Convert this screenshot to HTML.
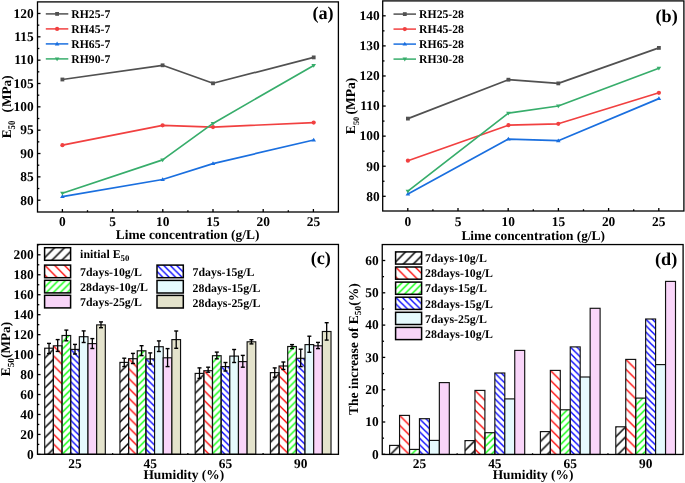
<!DOCTYPE html><html><head><meta charset="utf-8"><style>html,body{margin:0;padding:0;background:#fff;}svg{display:block;will-change:transform;text-rendering:geometricPrecision;}text{font-family:"Liberation Serif", serif;font-weight:bold;fill:#000;}</style></head><body>
<svg width="685" height="483" viewBox="0 0 685 483">
<rect width="685" height="483" fill="#fff"/>
<line x1="37.50" y1="200.20" x2="40.50" y2="200.20" stroke="#000" stroke-width="1.3" />
<text x="33.60" y="204.50" font-size="13.4" text-anchor="end" >80</text>
<line x1="37.50" y1="176.86" x2="40.50" y2="176.86" stroke="#000" stroke-width="1.3" />
<text x="33.60" y="181.16" font-size="13.4" text-anchor="end" >85</text>
<line x1="37.50" y1="153.52" x2="40.50" y2="153.52" stroke="#000" stroke-width="1.3" />
<text x="33.60" y="157.82" font-size="13.4" text-anchor="end" >90</text>
<line x1="37.50" y1="130.18" x2="40.50" y2="130.18" stroke="#000" stroke-width="1.3" />
<text x="33.60" y="134.48" font-size="13.4" text-anchor="end" >95</text>
<line x1="37.50" y1="106.84" x2="40.50" y2="106.84" stroke="#000" stroke-width="1.3" />
<text x="33.60" y="111.14" font-size="13.4" text-anchor="end" >100</text>
<line x1="37.50" y1="83.50" x2="40.50" y2="83.50" stroke="#000" stroke-width="1.3" />
<text x="33.60" y="87.80" font-size="13.4" text-anchor="end" >105</text>
<line x1="37.50" y1="60.16" x2="40.50" y2="60.16" stroke="#000" stroke-width="1.3" />
<text x="33.60" y="64.46" font-size="13.4" text-anchor="end" >110</text>
<line x1="37.50" y1="36.82" x2="40.50" y2="36.82" stroke="#000" stroke-width="1.3" />
<text x="33.60" y="41.12" font-size="13.4" text-anchor="end" >115</text>
<line x1="37.50" y1="13.48" x2="40.50" y2="13.48" stroke="#000" stroke-width="1.3" />
<text x="33.60" y="17.78" font-size="13.4" text-anchor="end" >120</text>
<line x1="37.50" y1="188.53" x2="39.30" y2="188.53" stroke="#000" stroke-width="1.3" />
<line x1="37.50" y1="165.19" x2="39.30" y2="165.19" stroke="#000" stroke-width="1.3" />
<line x1="37.50" y1="141.85" x2="39.30" y2="141.85" stroke="#000" stroke-width="1.3" />
<line x1="37.50" y1="118.51" x2="39.30" y2="118.51" stroke="#000" stroke-width="1.3" />
<line x1="37.50" y1="95.17" x2="39.30" y2="95.17" stroke="#000" stroke-width="1.3" />
<line x1="37.50" y1="71.83" x2="39.30" y2="71.83" stroke="#000" stroke-width="1.3" />
<line x1="37.50" y1="48.49" x2="39.30" y2="48.49" stroke="#000" stroke-width="1.3" />
<line x1="37.50" y1="25.15" x2="39.30" y2="25.15" stroke="#000" stroke-width="1.3" />
<line x1="62.40" y1="212.00" x2="62.40" y2="209.00" stroke="#000" stroke-width="1.3" />
<text x="62.40" y="226.40" font-size="13.4" text-anchor="middle" >0</text>
<line x1="112.60" y1="212.00" x2="112.60" y2="209.00" stroke="#000" stroke-width="1.3" />
<text x="112.60" y="226.40" font-size="13.4" text-anchor="middle" >5</text>
<line x1="162.80" y1="212.00" x2="162.80" y2="209.00" stroke="#000" stroke-width="1.3" />
<text x="162.80" y="226.40" font-size="13.4" text-anchor="middle" >10</text>
<line x1="213.00" y1="212.00" x2="213.00" y2="209.00" stroke="#000" stroke-width="1.3" />
<text x="213.00" y="226.40" font-size="13.4" text-anchor="middle" >15</text>
<line x1="263.20" y1="212.00" x2="263.20" y2="209.00" stroke="#000" stroke-width="1.3" />
<text x="263.20" y="226.40" font-size="13.4" text-anchor="middle" >20</text>
<line x1="313.40" y1="212.00" x2="313.40" y2="209.00" stroke="#000" stroke-width="1.3" />
<text x="313.40" y="226.40" font-size="13.4" text-anchor="middle" >25</text>
<line x1="87.50" y1="212.00" x2="87.50" y2="210.20" stroke="#000" stroke-width="1.3" />
<line x1="137.70" y1="212.00" x2="137.70" y2="210.20" stroke="#000" stroke-width="1.3" />
<line x1="187.90" y1="212.00" x2="187.90" y2="210.20" stroke="#000" stroke-width="1.3" />
<line x1="238.10" y1="212.00" x2="238.10" y2="210.20" stroke="#000" stroke-width="1.3" />
<line x1="288.30" y1="212.00" x2="288.30" y2="210.20" stroke="#000" stroke-width="1.3" />
<rect x="37.50" y="1.90" width="300.90" height="210.10" fill="none" stroke="#000" stroke-width="1.3"/>
<text x="187.60" y="239.40" font-size="13.4" text-anchor="middle" >Lime concentration (g/L)</text>
<text x="333.60" y="19.10" font-size="18.2" text-anchor="end" >(a)</text>
<path d="M62.40,79.50 L162.60,65.30 L213.00,83.30 L313.70,57.40" fill="none" stroke="#515151" stroke-width="1.7" stroke-linejoin="round"/>
<rect x="60.50" y="77.60" width="3.80" height="3.80" fill="#515151"/>
<rect x="160.70" y="63.40" width="3.80" height="3.80" fill="#515151"/>
<rect x="211.10" y="81.40" width="3.80" height="3.80" fill="#515151"/>
<rect x="311.80" y="55.50" width="3.80" height="3.80" fill="#515151"/>
<path d="M62.40,145.20 L162.60,125.30 L213.00,127.10 L313.70,122.60" fill="none" stroke="#F14040" stroke-width="1.7" stroke-linejoin="round"/>
<circle cx="62.40" cy="145.20" r="2.10" fill="#F14040"/>
<circle cx="162.60" cy="125.30" r="2.10" fill="#F14040"/>
<circle cx="213.00" cy="127.10" r="2.10" fill="#F14040"/>
<circle cx="313.70" cy="122.60" r="2.10" fill="#F14040"/>
<path d="M62.40,196.60 L162.60,179.50 L213.00,163.60 L313.70,140.00" fill="none" stroke="#1A6FDF" stroke-width="1.7" stroke-linejoin="round"/>
<path d="M60.10,198.12 L64.70,198.12 L62.40,194.32Z" fill="#1A6FDF"/>
<path d="M160.30,181.02 L164.90,181.02 L162.60,177.22Z" fill="#1A6FDF"/>
<path d="M210.70,165.12 L215.30,165.12 L213.00,161.32Z" fill="#1A6FDF"/>
<path d="M311.40,141.52 L316.00,141.52 L313.70,137.72Z" fill="#1A6FDF"/>
<path d="M62.40,193.30 L162.60,159.90 L213.00,123.40 L313.70,65.40" fill="none" stroke="#37AD6B" stroke-width="1.7" stroke-linejoin="round"/>
<path d="M60.10,191.78 L64.70,191.78 L62.40,195.58Z" fill="#37AD6B"/>
<path d="M160.30,158.38 L164.90,158.38 L162.60,162.18Z" fill="#37AD6B"/>
<path d="M210.70,121.88 L215.30,121.88 L213.00,125.68Z" fill="#37AD6B"/>
<path d="M311.40,63.88 L316.00,63.88 L313.70,67.68Z" fill="#37AD6B"/>
<line x1="45.80" y1="13.90" x2="68.30" y2="13.90" stroke="#515151" stroke-width="1.5" />
<rect x="55.20" y="12.00" width="3.80" height="3.80" fill="#515151"/>
<text x="71.30" y="17.80" font-size="11.7" text-anchor="start" >RH25-7</text>
<line x1="45.80" y1="28.90" x2="68.30" y2="28.90" stroke="#F14040" stroke-width="1.5" />
<circle cx="57.10" cy="28.90" r="2.10" fill="#F14040"/>
<text x="71.30" y="32.80" font-size="11.7" text-anchor="start" >RH45-7</text>
<line x1="45.80" y1="43.90" x2="68.30" y2="43.90" stroke="#1A6FDF" stroke-width="1.5" />
<path d="M54.80,45.42 L59.40,45.42 L57.10,41.62Z" fill="#1A6FDF"/>
<text x="71.30" y="47.80" font-size="11.7" text-anchor="start" >RH65-7</text>
<line x1="45.80" y1="58.90" x2="68.30" y2="58.90" stroke="#37AD6B" stroke-width="1.5" />
<path d="M54.80,57.38 L59.40,57.38 L57.10,61.18Z" fill="#37AD6B"/>
<text x="71.30" y="62.80" font-size="11.7" text-anchor="start" >RH90-7</text>
<g transform="translate(11.0,138.3) rotate(-90)"><text x="0" y="0" font-size="13.3">E<tspan font-size="10.2" dy="3.6" textLength="8.8" lengthAdjust="spacingAndGlyphs">50</tspan><tspan dy="-3.6" x="25.8">(</tspan><tspan x="31.2">MPa)</tspan></text></g>
<line x1="382.70" y1="196.30" x2="385.70" y2="196.30" stroke="#000" stroke-width="1.3" />
<text x="379.60" y="200.60" font-size="13.4" text-anchor="end" >80</text>
<line x1="382.70" y1="166.22" x2="385.70" y2="166.22" stroke="#000" stroke-width="1.3" />
<text x="379.60" y="170.52" font-size="13.4" text-anchor="end" >90</text>
<line x1="382.70" y1="136.14" x2="385.70" y2="136.14" stroke="#000" stroke-width="1.3" />
<text x="379.60" y="140.44" font-size="13.4" text-anchor="end" >100</text>
<line x1="382.70" y1="106.06" x2="385.70" y2="106.06" stroke="#000" stroke-width="1.3" />
<text x="379.60" y="110.36" font-size="13.4" text-anchor="end" >110</text>
<line x1="382.70" y1="75.98" x2="385.70" y2="75.98" stroke="#000" stroke-width="1.3" />
<text x="379.60" y="80.28" font-size="13.4" text-anchor="end" >120</text>
<line x1="382.70" y1="45.90" x2="385.70" y2="45.90" stroke="#000" stroke-width="1.3" />
<text x="379.60" y="50.20" font-size="13.4" text-anchor="end" >130</text>
<line x1="382.70" y1="15.82" x2="385.70" y2="15.82" stroke="#000" stroke-width="1.3" />
<text x="379.60" y="20.12" font-size="13.4" text-anchor="end" >140</text>
<line x1="382.70" y1="181.26" x2="384.50" y2="181.26" stroke="#000" stroke-width="1.3" />
<line x1="382.70" y1="151.18" x2="384.50" y2="151.18" stroke="#000" stroke-width="1.3" />
<line x1="382.70" y1="121.10" x2="384.50" y2="121.10" stroke="#000" stroke-width="1.3" />
<line x1="382.70" y1="91.02" x2="384.50" y2="91.02" stroke="#000" stroke-width="1.3" />
<line x1="382.70" y1="60.94" x2="384.50" y2="60.94" stroke="#000" stroke-width="1.3" />
<line x1="382.70" y1="30.86" x2="384.50" y2="30.86" stroke="#000" stroke-width="1.3" />
<line x1="407.80" y1="211.00" x2="407.80" y2="208.00" stroke="#000" stroke-width="1.3" />
<text x="407.80" y="225.60" font-size="13.4" text-anchor="middle" >0</text>
<line x1="458.00" y1="211.00" x2="458.00" y2="208.00" stroke="#000" stroke-width="1.3" />
<text x="458.00" y="225.60" font-size="13.4" text-anchor="middle" >5</text>
<line x1="508.20" y1="211.00" x2="508.20" y2="208.00" stroke="#000" stroke-width="1.3" />
<text x="508.20" y="225.60" font-size="13.4" text-anchor="middle" >10</text>
<line x1="558.40" y1="211.00" x2="558.40" y2="208.00" stroke="#000" stroke-width="1.3" />
<text x="558.40" y="225.60" font-size="13.4" text-anchor="middle" >15</text>
<line x1="608.60" y1="211.00" x2="608.60" y2="208.00" stroke="#000" stroke-width="1.3" />
<text x="608.60" y="225.60" font-size="13.4" text-anchor="middle" >20</text>
<line x1="658.80" y1="211.00" x2="658.80" y2="208.00" stroke="#000" stroke-width="1.3" />
<text x="658.80" y="225.60" font-size="13.4" text-anchor="middle" >25</text>
<line x1="432.90" y1="211.00" x2="432.90" y2="209.20" stroke="#000" stroke-width="1.3" />
<line x1="483.10" y1="211.00" x2="483.10" y2="209.20" stroke="#000" stroke-width="1.3" />
<line x1="533.30" y1="211.00" x2="533.30" y2="209.20" stroke="#000" stroke-width="1.3" />
<line x1="583.50" y1="211.00" x2="583.50" y2="209.20" stroke="#000" stroke-width="1.3" />
<line x1="633.70" y1="211.00" x2="633.70" y2="209.20" stroke="#000" stroke-width="1.3" />
<rect x="382.70" y="0.90" width="301.20" height="210.10" fill="none" stroke="#000" stroke-width="1.3"/>
<text x="533.20" y="239.60" font-size="13.4" text-anchor="middle" >Lime concentration (g/L)</text>
<text x="677.80" y="21.90" font-size="18.2" text-anchor="end" >(b)</text>
<path d="M407.90,118.60 L508.40,79.70 L558.30,83.40 L658.90,47.90" fill="none" stroke="#515151" stroke-width="1.7" stroke-linejoin="round"/>
<rect x="406.00" y="116.70" width="3.80" height="3.80" fill="#515151"/>
<rect x="506.50" y="77.80" width="3.80" height="3.80" fill="#515151"/>
<rect x="556.40" y="81.50" width="3.80" height="3.80" fill="#515151"/>
<rect x="657.00" y="46.00" width="3.80" height="3.80" fill="#515151"/>
<path d="M407.90,160.70 L508.40,125.20 L558.30,123.80 L658.90,92.80" fill="none" stroke="#F14040" stroke-width="1.7" stroke-linejoin="round"/>
<circle cx="407.90" cy="160.70" r="2.10" fill="#F14040"/>
<circle cx="508.40" cy="125.20" r="2.10" fill="#F14040"/>
<circle cx="558.30" cy="123.80" r="2.10" fill="#F14040"/>
<circle cx="658.90" cy="92.80" r="2.10" fill="#F14040"/>
<path d="M407.90,194.00 L508.40,139.10 L558.30,140.70 L658.90,98.60" fill="none" stroke="#1A6FDF" stroke-width="1.7" stroke-linejoin="round"/>
<path d="M405.60,195.52 L410.20,195.52 L407.90,191.72Z" fill="#1A6FDF"/>
<path d="M506.10,140.62 L510.70,140.62 L508.40,136.82Z" fill="#1A6FDF"/>
<path d="M556.00,142.22 L560.60,142.22 L558.30,138.42Z" fill="#1A6FDF"/>
<path d="M656.60,100.12 L661.20,100.12 L658.90,96.32Z" fill="#1A6FDF"/>
<path d="M407.90,191.20 L508.40,113.20 L558.30,106.00 L658.90,68.20" fill="none" stroke="#37AD6B" stroke-width="1.7" stroke-linejoin="round"/>
<path d="M405.60,189.68 L410.20,189.68 L407.90,193.48Z" fill="#37AD6B"/>
<path d="M506.10,111.68 L510.70,111.68 L508.40,115.48Z" fill="#37AD6B"/>
<path d="M556.00,104.48 L560.60,104.48 L558.30,108.28Z" fill="#37AD6B"/>
<path d="M656.60,66.68 L661.20,66.68 L658.90,70.48Z" fill="#37AD6B"/>
<line x1="393.50" y1="14.10" x2="416.00" y2="14.10" stroke="#515151" stroke-width="1.5" />
<rect x="402.90" y="12.20" width="3.80" height="3.80" fill="#515151"/>
<text x="419.10" y="18.00" font-size="11.7" text-anchor="start" >RH25-28</text>
<line x1="393.50" y1="29.10" x2="416.00" y2="29.10" stroke="#F14040" stroke-width="1.5" />
<circle cx="404.80" cy="29.10" r="2.10" fill="#F14040"/>
<text x="419.10" y="33.00" font-size="11.7" text-anchor="start" >RH45-28</text>
<line x1="393.50" y1="44.10" x2="416.00" y2="44.10" stroke="#1A6FDF" stroke-width="1.5" />
<path d="M402.50,45.62 L407.10,45.62 L404.80,41.82Z" fill="#1A6FDF"/>
<text x="419.10" y="48.00" font-size="11.7" text-anchor="start" >RH65-28</text>
<line x1="393.50" y1="59.10" x2="416.00" y2="59.10" stroke="#37AD6B" stroke-width="1.5" />
<path d="M402.50,57.58 L407.10,57.58 L404.80,61.38Z" fill="#37AD6B"/>
<text x="419.10" y="63.00" font-size="11.7" text-anchor="start" >RH30-28</text>
<g transform="translate(355.2,134.2) rotate(-90)"><text x="0" y="0" font-size="13.6">E<tspan font-size="8.4" dy="3.8">50</tspan><tspan dy="-3.8" x="19.6">(MPa)</tspan></text></g>
<rect x="44.70" y="348.20" width="8.66" height="106.10" fill="url(#p1)" stroke="#111" stroke-width="1.15"/>
<rect x="53.36" y="345.80" width="8.66" height="108.50" fill="url(#p2)" stroke="#111" stroke-width="1.15"/>
<rect x="62.02" y="335.50" width="8.66" height="118.80" fill="url(#p3)" stroke="#111" stroke-width="1.15"/>
<rect x="70.68" y="349.40" width="8.66" height="104.90" fill="url(#p4)" stroke="#111" stroke-width="1.15"/>
<rect x="79.34" y="336.70" width="8.66" height="117.60" fill="#E6FAFD" stroke="#111" stroke-width="1.15"/>
<rect x="88.00" y="343.60" width="8.66" height="110.70" fill="#F9D5F9" stroke="#111" stroke-width="1.15"/>
<rect x="96.66" y="324.90" width="8.66" height="129.40" fill="#E4E3CC" stroke="#111" stroke-width="1.15"/>
<line x1="49.03" y1="343.40" x2="49.03" y2="353.50" stroke="#000" stroke-width="1.3" />
<line x1="47.03" y1="343.40" x2="51.03" y2="343.40" stroke="#000" stroke-width="1.4" />
<line x1="47.03" y1="353.50" x2="51.03" y2="353.50" stroke="#000" stroke-width="1.4" />
<line x1="57.69" y1="339.60" x2="57.69" y2="351.40" stroke="#000" stroke-width="1.3" />
<line x1="55.69" y1="339.60" x2="59.69" y2="339.60" stroke="#000" stroke-width="1.4" />
<line x1="55.69" y1="351.40" x2="59.69" y2="351.40" stroke="#000" stroke-width="1.4" />
<line x1="66.35" y1="330.10" x2="66.35" y2="340.80" stroke="#000" stroke-width="1.3" />
<line x1="64.35" y1="330.10" x2="68.35" y2="330.10" stroke="#000" stroke-width="1.4" />
<line x1="64.35" y1="340.80" x2="68.35" y2="340.80" stroke="#000" stroke-width="1.4" />
<line x1="75.01" y1="344.40" x2="75.01" y2="354.00" stroke="#000" stroke-width="1.3" />
<line x1="73.01" y1="344.40" x2="77.01" y2="344.40" stroke="#000" stroke-width="1.4" />
<line x1="73.01" y1="354.00" x2="77.01" y2="354.00" stroke="#000" stroke-width="1.4" />
<line x1="83.67" y1="330.90" x2="83.67" y2="342.50" stroke="#000" stroke-width="1.3" />
<line x1="81.67" y1="330.90" x2="85.67" y2="330.90" stroke="#000" stroke-width="1.4" />
<line x1="81.67" y1="342.50" x2="85.67" y2="342.50" stroke="#000" stroke-width="1.4" />
<line x1="92.33" y1="338.60" x2="92.33" y2="348.50" stroke="#000" stroke-width="1.3" />
<line x1="90.33" y1="338.60" x2="94.33" y2="338.60" stroke="#000" stroke-width="1.4" />
<line x1="90.33" y1="348.50" x2="94.33" y2="348.50" stroke="#000" stroke-width="1.4" />
<line x1="100.99" y1="321.90" x2="100.99" y2="327.70" stroke="#000" stroke-width="1.3" />
<line x1="98.99" y1="321.90" x2="102.99" y2="321.90" stroke="#000" stroke-width="1.4" />
<line x1="98.99" y1="327.70" x2="102.99" y2="327.70" stroke="#000" stroke-width="1.4" />
<rect x="119.93" y="362.40" width="8.66" height="91.90" fill="url(#p5)" stroke="#111" stroke-width="1.15"/>
<rect x="128.59" y="358.70" width="8.66" height="95.60" fill="url(#p6)" stroke="#111" stroke-width="1.15"/>
<rect x="137.25" y="350.80" width="8.66" height="103.50" fill="url(#p7)" stroke="#111" stroke-width="1.15"/>
<rect x="145.91" y="358.90" width="8.66" height="95.40" fill="url(#p8)" stroke="#111" stroke-width="1.15"/>
<rect x="154.57" y="346.70" width="8.66" height="107.60" fill="#E6FAFD" stroke="#111" stroke-width="1.15"/>
<rect x="163.23" y="357.80" width="8.66" height="96.50" fill="#F9D5F9" stroke="#111" stroke-width="1.15"/>
<rect x="171.89" y="339.60" width="8.66" height="114.70" fill="#E4E3CC" stroke="#111" stroke-width="1.15"/>
<line x1="124.26" y1="358.20" x2="124.26" y2="366.60" stroke="#000" stroke-width="1.3" />
<line x1="122.26" y1="358.20" x2="126.26" y2="358.20" stroke="#000" stroke-width="1.4" />
<line x1="122.26" y1="366.60" x2="126.26" y2="366.60" stroke="#000" stroke-width="1.4" />
<line x1="132.92" y1="353.40" x2="132.92" y2="363.50" stroke="#000" stroke-width="1.3" />
<line x1="130.92" y1="353.40" x2="134.92" y2="353.40" stroke="#000" stroke-width="1.4" />
<line x1="130.92" y1="363.50" x2="134.92" y2="363.50" stroke="#000" stroke-width="1.4" />
<line x1="141.58" y1="345.70" x2="141.58" y2="355.60" stroke="#000" stroke-width="1.3" />
<line x1="139.58" y1="345.70" x2="143.58" y2="345.70" stroke="#000" stroke-width="1.4" />
<line x1="139.58" y1="355.60" x2="143.58" y2="355.60" stroke="#000" stroke-width="1.4" />
<line x1="150.24" y1="352.90" x2="150.24" y2="364.00" stroke="#000" stroke-width="1.3" />
<line x1="148.24" y1="352.90" x2="152.24" y2="352.90" stroke="#000" stroke-width="1.4" />
<line x1="148.24" y1="364.00" x2="152.24" y2="364.00" stroke="#000" stroke-width="1.4" />
<line x1="158.90" y1="340.90" x2="158.90" y2="351.50" stroke="#000" stroke-width="1.3" />
<line x1="156.90" y1="340.90" x2="160.90" y2="340.90" stroke="#000" stroke-width="1.4" />
<line x1="156.90" y1="351.50" x2="160.90" y2="351.50" stroke="#000" stroke-width="1.4" />
<line x1="167.56" y1="348.60" x2="167.56" y2="366.60" stroke="#000" stroke-width="1.3" />
<line x1="165.56" y1="348.60" x2="169.56" y2="348.60" stroke="#000" stroke-width="1.4" />
<line x1="165.56" y1="366.60" x2="169.56" y2="366.60" stroke="#000" stroke-width="1.4" />
<line x1="176.22" y1="331.00" x2="176.22" y2="348.30" stroke="#000" stroke-width="1.3" />
<line x1="174.22" y1="331.00" x2="178.22" y2="331.00" stroke="#000" stroke-width="1.4" />
<line x1="174.22" y1="348.30" x2="178.22" y2="348.30" stroke="#000" stroke-width="1.4" />
<rect x="195.16" y="373.40" width="8.66" height="80.90" fill="url(#p9)" stroke="#111" stroke-width="1.15"/>
<rect x="203.82" y="370.70" width="8.66" height="83.60" fill="url(#p10)" stroke="#111" stroke-width="1.15"/>
<rect x="212.48" y="355.70" width="8.66" height="98.60" fill="url(#p11)" stroke="#111" stroke-width="1.15"/>
<rect x="221.14" y="366.60" width="8.66" height="87.70" fill="url(#p12)" stroke="#111" stroke-width="1.15"/>
<rect x="229.80" y="356.10" width="8.66" height="98.20" fill="#E6FAFD" stroke="#111" stroke-width="1.15"/>
<rect x="238.46" y="361.60" width="8.66" height="92.70" fill="#F9D5F9" stroke="#111" stroke-width="1.15"/>
<rect x="247.12" y="341.80" width="8.66" height="112.50" fill="#E4E3CC" stroke="#111" stroke-width="1.15"/>
<line x1="199.49" y1="367.90" x2="199.49" y2="378.40" stroke="#000" stroke-width="1.3" />
<line x1="197.49" y1="367.90" x2="201.49" y2="367.90" stroke="#000" stroke-width="1.4" />
<line x1="197.49" y1="378.40" x2="201.49" y2="378.40" stroke="#000" stroke-width="1.4" />
<line x1="208.15" y1="367.20" x2="208.15" y2="372.20" stroke="#000" stroke-width="1.3" />
<line x1="206.15" y1="367.20" x2="210.15" y2="367.20" stroke="#000" stroke-width="1.4" />
<line x1="206.15" y1="372.20" x2="210.15" y2="372.20" stroke="#000" stroke-width="1.4" />
<line x1="216.81" y1="352.10" x2="216.81" y2="358.80" stroke="#000" stroke-width="1.3" />
<line x1="214.81" y1="352.10" x2="218.81" y2="352.10" stroke="#000" stroke-width="1.4" />
<line x1="214.81" y1="358.80" x2="218.81" y2="358.80" stroke="#000" stroke-width="1.4" />
<line x1="225.47" y1="362.50" x2="225.47" y2="371.00" stroke="#000" stroke-width="1.3" />
<line x1="223.47" y1="362.50" x2="227.47" y2="362.50" stroke="#000" stroke-width="1.4" />
<line x1="223.47" y1="371.00" x2="227.47" y2="371.00" stroke="#000" stroke-width="1.4" />
<line x1="234.13" y1="349.50" x2="234.13" y2="362.50" stroke="#000" stroke-width="1.3" />
<line x1="232.13" y1="349.50" x2="236.13" y2="349.50" stroke="#000" stroke-width="1.4" />
<line x1="232.13" y1="362.50" x2="236.13" y2="362.50" stroke="#000" stroke-width="1.4" />
<line x1="242.79" y1="355.40" x2="242.79" y2="367.20" stroke="#000" stroke-width="1.3" />
<line x1="240.79" y1="355.40" x2="244.79" y2="355.40" stroke="#000" stroke-width="1.4" />
<line x1="240.79" y1="367.20" x2="244.79" y2="367.20" stroke="#000" stroke-width="1.4" />
<line x1="251.45" y1="339.70" x2="251.45" y2="343.90" stroke="#000" stroke-width="1.3" />
<line x1="249.45" y1="339.70" x2="253.45" y2="339.70" stroke="#000" stroke-width="1.4" />
<line x1="249.45" y1="343.90" x2="253.45" y2="343.90" stroke="#000" stroke-width="1.4" />
<rect x="270.39" y="372.60" width="8.66" height="81.70" fill="url(#p13)" stroke="#111" stroke-width="1.15"/>
<rect x="279.05" y="366.00" width="8.66" height="88.30" fill="url(#p14)" stroke="#111" stroke-width="1.15"/>
<rect x="287.71" y="346.50" width="8.66" height="107.80" fill="url(#p15)" stroke="#111" stroke-width="1.15"/>
<rect x="296.37" y="358.30" width="8.66" height="96.00" fill="url(#p16)" stroke="#111" stroke-width="1.15"/>
<rect x="305.03" y="344.60" width="8.66" height="109.70" fill="#E6FAFD" stroke="#111" stroke-width="1.15"/>
<rect x="313.69" y="345.80" width="8.66" height="108.50" fill="#F9D5F9" stroke="#111" stroke-width="1.15"/>
<rect x="322.35" y="331.50" width="8.66" height="122.80" fill="#E4E3CC" stroke="#111" stroke-width="1.15"/>
<line x1="274.72" y1="367.90" x2="274.72" y2="377.20" stroke="#000" stroke-width="1.3" />
<line x1="272.72" y1="367.90" x2="276.72" y2="367.90" stroke="#000" stroke-width="1.4" />
<line x1="272.72" y1="377.20" x2="276.72" y2="377.20" stroke="#000" stroke-width="1.4" />
<line x1="283.38" y1="362.00" x2="283.38" y2="369.50" stroke="#000" stroke-width="1.3" />
<line x1="281.38" y1="362.00" x2="285.38" y2="362.00" stroke="#000" stroke-width="1.4" />
<line x1="281.38" y1="369.50" x2="285.38" y2="369.50" stroke="#000" stroke-width="1.4" />
<line x1="292.04" y1="344.60" x2="292.04" y2="348.60" stroke="#000" stroke-width="1.3" />
<line x1="290.04" y1="344.60" x2="294.04" y2="344.60" stroke="#000" stroke-width="1.4" />
<line x1="290.04" y1="348.60" x2="294.04" y2="348.60" stroke="#000" stroke-width="1.4" />
<line x1="300.70" y1="349.20" x2="300.70" y2="366.60" stroke="#000" stroke-width="1.3" />
<line x1="298.70" y1="349.20" x2="302.70" y2="349.20" stroke="#000" stroke-width="1.4" />
<line x1="298.70" y1="366.60" x2="302.70" y2="366.60" stroke="#000" stroke-width="1.4" />
<line x1="309.36" y1="336.20" x2="309.36" y2="352.30" stroke="#000" stroke-width="1.3" />
<line x1="307.36" y1="336.20" x2="311.36" y2="336.20" stroke="#000" stroke-width="1.4" />
<line x1="307.36" y1="352.30" x2="311.36" y2="352.30" stroke="#000" stroke-width="1.4" />
<line x1="318.02" y1="342.40" x2="318.02" y2="348.60" stroke="#000" stroke-width="1.3" />
<line x1="316.02" y1="342.40" x2="320.02" y2="342.40" stroke="#000" stroke-width="1.4" />
<line x1="316.02" y1="348.60" x2="320.02" y2="348.60" stroke="#000" stroke-width="1.4" />
<line x1="326.68" y1="322.70" x2="326.68" y2="340.10" stroke="#000" stroke-width="1.3" />
<line x1="324.68" y1="322.70" x2="328.68" y2="322.70" stroke="#000" stroke-width="1.4" />
<line x1="324.68" y1="340.10" x2="328.68" y2="340.10" stroke="#000" stroke-width="1.4" />
<line x1="37.50" y1="454.40" x2="40.50" y2="454.40" stroke="#000" stroke-width="1.3" />
<text x="33.60" y="458.70" font-size="13.4" text-anchor="end" >0</text>
<line x1="37.50" y1="434.44" x2="40.50" y2="434.44" stroke="#000" stroke-width="1.3" />
<text x="33.60" y="438.74" font-size="13.4" text-anchor="end" >20</text>
<line x1="37.50" y1="414.48" x2="40.50" y2="414.48" stroke="#000" stroke-width="1.3" />
<text x="33.60" y="418.78" font-size="13.4" text-anchor="end" >40</text>
<line x1="37.50" y1="394.52" x2="40.50" y2="394.52" stroke="#000" stroke-width="1.3" />
<text x="33.60" y="398.82" font-size="13.4" text-anchor="end" >60</text>
<line x1="37.50" y1="374.56" x2="40.50" y2="374.56" stroke="#000" stroke-width="1.3" />
<text x="33.60" y="378.86" font-size="13.4" text-anchor="end" >80</text>
<line x1="37.50" y1="354.60" x2="40.50" y2="354.60" stroke="#000" stroke-width="1.3" />
<text x="33.60" y="358.90" font-size="13.4" text-anchor="end" >100</text>
<line x1="37.50" y1="334.64" x2="40.50" y2="334.64" stroke="#000" stroke-width="1.3" />
<text x="33.60" y="338.94" font-size="13.4" text-anchor="end" >120</text>
<line x1="37.50" y1="314.68" x2="40.50" y2="314.68" stroke="#000" stroke-width="1.3" />
<text x="33.60" y="318.98" font-size="13.4" text-anchor="end" >140</text>
<line x1="37.50" y1="294.72" x2="40.50" y2="294.72" stroke="#000" stroke-width="1.3" />
<text x="33.60" y="299.02" font-size="13.4" text-anchor="end" >160</text>
<line x1="37.50" y1="274.76" x2="40.50" y2="274.76" stroke="#000" stroke-width="1.3" />
<text x="33.60" y="279.06" font-size="13.4" text-anchor="end" >180</text>
<line x1="37.50" y1="254.80" x2="40.50" y2="254.80" stroke="#000" stroke-width="1.3" />
<text x="33.60" y="259.10" font-size="13.4" text-anchor="end" >200</text>
<line x1="37.50" y1="444.42" x2="39.30" y2="444.42" stroke="#000" stroke-width="1.3" />
<line x1="37.50" y1="424.46" x2="39.30" y2="424.46" stroke="#000" stroke-width="1.3" />
<line x1="37.50" y1="404.50" x2="39.30" y2="404.50" stroke="#000" stroke-width="1.3" />
<line x1="37.50" y1="384.54" x2="39.30" y2="384.54" stroke="#000" stroke-width="1.3" />
<line x1="37.50" y1="364.58" x2="39.30" y2="364.58" stroke="#000" stroke-width="1.3" />
<line x1="37.50" y1="344.62" x2="39.30" y2="344.62" stroke="#000" stroke-width="1.3" />
<line x1="37.50" y1="324.66" x2="39.30" y2="324.66" stroke="#000" stroke-width="1.3" />
<line x1="37.50" y1="304.70" x2="39.30" y2="304.70" stroke="#000" stroke-width="1.3" />
<line x1="37.50" y1="284.74" x2="39.30" y2="284.74" stroke="#000" stroke-width="1.3" />
<line x1="37.50" y1="264.78" x2="39.30" y2="264.78" stroke="#000" stroke-width="1.3" />
<line x1="37.50" y1="244.82" x2="39.30" y2="244.82" stroke="#000" stroke-width="1.3" />
<text x="75.01" y="468.40" font-size="13.4" text-anchor="middle" >25</text>
<text x="150.24" y="468.40" font-size="13.4" text-anchor="middle" >45</text>
<text x="225.47" y="468.40" font-size="13.4" text-anchor="middle" >65</text>
<text x="300.70" y="468.40" font-size="13.4" text-anchor="middle" >90</text>
<line x1="112.62" y1="454.30" x2="112.62" y2="453.10" stroke="#000" stroke-width="1.3" />
<line x1="187.86" y1="454.30" x2="187.86" y2="453.10" stroke="#000" stroke-width="1.3" />
<line x1="263.09" y1="454.30" x2="263.09" y2="453.10" stroke="#000" stroke-width="1.3" />
<rect x="37.50" y="244.45" width="300.95" height="209.85" fill="none" stroke="#000" stroke-width="1.3"/>
<text x="183.80" y="478.90" font-size="13.4" text-anchor="middle" >Humidity (%)</text>
<text x="330.90" y="264.00" font-size="18.2" text-anchor="end" >(c)</text>
<rect x="44.6" y="247.70" width="26" height="12.6" fill="url(#p17)" stroke="#000" stroke-width="1.5"/>
<text x="80.10" y="258.20" font-size="11.85" text-anchor="start" >initial E<tspan font-size="8.8" dy="3.2">50</tspan></text>
<rect x="44.6" y="265.10" width="26" height="12.6" fill="url(#p18)" stroke="#000" stroke-width="1.5"/>
<text x="80.10" y="276.20" font-size="11.85" text-anchor="start" >7days-10g/L</text>
<rect x="44.6" y="280.30" width="26" height="12.6" fill="url(#p19)" stroke="#000" stroke-width="1.5"/>
<text x="80.10" y="291.40" font-size="11.85" text-anchor="start" >28days-10g/L</text>
<rect x="44.6" y="295.30" width="26" height="12.6" fill="#F9D5F9" stroke="#000" stroke-width="1.5"/>
<text x="80.10" y="306.40" font-size="11.85" text-anchor="start" >7days-25g/L</text>
<rect x="157" y="265.10" width="26.3" height="12.6" fill="url(#p20)" stroke="#000" stroke-width="1.5"/>
<text x="192.60" y="276.20" font-size="11.85" text-anchor="start" >7days-15g/L</text>
<rect x="157" y="280.40" width="26.3" height="12.6" fill="#E6FAFD" stroke="#000" stroke-width="1.5"/>
<text x="192.60" y="291.50" font-size="11.85" text-anchor="start" >28days-15g/L</text>
<rect x="157" y="295.40" width="26.3" height="12.6" fill="#E4E3CC" stroke="#000" stroke-width="1.5"/>
<text x="192.60" y="306.50" font-size="11.85" text-anchor="start" >28days-25g/L</text>
<g transform="translate(10.4,376.2) rotate(-90)"><text x="0" y="0" font-size="13.3">E<tspan font-size="9.3" dy="3.6">50</tspan><tspan dy="-3.6">(MPa)</tspan></text></g>
<rect x="389.60" y="445.40" width="9.95" height="9.05" fill="url(#p21)" stroke="#111" stroke-width="1.15"/>
<rect x="399.55" y="415.40" width="9.95" height="39.05" fill="url(#p22)" stroke="#111" stroke-width="1.15"/>
<rect x="409.50" y="449.40" width="9.95" height="5.05" fill="url(#p23)" stroke="#111" stroke-width="1.15"/>
<rect x="419.45" y="418.70" width="9.95" height="35.75" fill="url(#p24)" stroke="#111" stroke-width="1.15"/>
<rect x="429.40" y="440.40" width="9.95" height="14.05" fill="#E6FAFD" stroke="#111" stroke-width="1.15"/>
<rect x="439.35" y="382.60" width="9.95" height="71.85" fill="#F9D5F9" stroke="#111" stroke-width="1.15"/>
<rect x="465.00" y="440.60" width="9.95" height="13.85" fill="url(#p25)" stroke="#111" stroke-width="1.15"/>
<rect x="474.95" y="390.40" width="9.95" height="64.05" fill="url(#p26)" stroke="#111" stroke-width="1.15"/>
<rect x="484.90" y="432.70" width="9.95" height="21.75" fill="url(#p27)" stroke="#111" stroke-width="1.15"/>
<rect x="494.85" y="373.00" width="9.95" height="81.45" fill="url(#p28)" stroke="#111" stroke-width="1.15"/>
<rect x="504.80" y="398.90" width="9.95" height="55.55" fill="#E6FAFD" stroke="#111" stroke-width="1.15"/>
<rect x="514.75" y="350.40" width="9.95" height="104.05" fill="#F9D5F9" stroke="#111" stroke-width="1.15"/>
<rect x="540.40" y="431.60" width="9.95" height="22.85" fill="url(#p29)" stroke="#111" stroke-width="1.15"/>
<rect x="550.35" y="370.40" width="9.95" height="84.05" fill="url(#p30)" stroke="#111" stroke-width="1.15"/>
<rect x="560.30" y="409.80" width="9.95" height="44.65" fill="url(#p31)" stroke="#111" stroke-width="1.15"/>
<rect x="570.25" y="346.90" width="9.95" height="107.55" fill="url(#p32)" stroke="#111" stroke-width="1.15"/>
<rect x="580.20" y="377.00" width="9.95" height="77.45" fill="#E6FAFD" stroke="#111" stroke-width="1.15"/>
<rect x="590.15" y="308.30" width="9.95" height="146.15" fill="#F9D5F9" stroke="#111" stroke-width="1.15"/>
<rect x="615.80" y="426.80" width="9.95" height="27.65" fill="url(#p33)" stroke="#111" stroke-width="1.15"/>
<rect x="625.75" y="359.40" width="9.95" height="95.05" fill="url(#p34)" stroke="#111" stroke-width="1.15"/>
<rect x="635.70" y="398.10" width="9.95" height="56.35" fill="url(#p35)" stroke="#111" stroke-width="1.15"/>
<rect x="645.65" y="319.00" width="9.95" height="135.45" fill="url(#p36)" stroke="#111" stroke-width="1.15"/>
<rect x="655.60" y="364.60" width="9.95" height="89.85" fill="#E6FAFD" stroke="#111" stroke-width="1.15"/>
<rect x="665.55" y="281.40" width="9.95" height="173.05" fill="#F9D5F9" stroke="#111" stroke-width="1.15"/>
<line x1="382.25" y1="454.30" x2="385.25" y2="454.30" stroke="#000" stroke-width="1.3" />
<text x="378.60" y="458.60" font-size="13.4" text-anchor="end" >0</text>
<line x1="382.25" y1="422.00" x2="385.25" y2="422.00" stroke="#000" stroke-width="1.3" />
<text x="378.60" y="426.30" font-size="13.4" text-anchor="end" >10</text>
<line x1="382.25" y1="389.70" x2="385.25" y2="389.70" stroke="#000" stroke-width="1.3" />
<text x="378.60" y="394.00" font-size="13.4" text-anchor="end" >20</text>
<line x1="382.25" y1="357.40" x2="385.25" y2="357.40" stroke="#000" stroke-width="1.3" />
<text x="378.60" y="361.70" font-size="13.4" text-anchor="end" >30</text>
<line x1="382.25" y1="325.10" x2="385.25" y2="325.10" stroke="#000" stroke-width="1.3" />
<text x="378.60" y="329.40" font-size="13.4" text-anchor="end" >40</text>
<line x1="382.25" y1="292.80" x2="385.25" y2="292.80" stroke="#000" stroke-width="1.3" />
<text x="378.60" y="297.10" font-size="13.4" text-anchor="end" >50</text>
<line x1="382.25" y1="260.50" x2="385.25" y2="260.50" stroke="#000" stroke-width="1.3" />
<text x="378.60" y="264.80" font-size="13.4" text-anchor="end" >60</text>
<line x1="382.25" y1="438.15" x2="384.05" y2="438.15" stroke="#000" stroke-width="1.3" />
<line x1="382.25" y1="405.85" x2="384.05" y2="405.85" stroke="#000" stroke-width="1.3" />
<line x1="382.25" y1="373.55" x2="384.05" y2="373.55" stroke="#000" stroke-width="1.3" />
<line x1="382.25" y1="341.25" x2="384.05" y2="341.25" stroke="#000" stroke-width="1.3" />
<line x1="382.25" y1="308.95" x2="384.05" y2="308.95" stroke="#000" stroke-width="1.3" />
<line x1="382.25" y1="276.65" x2="384.05" y2="276.65" stroke="#000" stroke-width="1.3" />
<text x="419.45" y="468.40" font-size="13.4" text-anchor="middle" >25</text>
<text x="494.85" y="468.40" font-size="13.4" text-anchor="middle" >45</text>
<text x="570.25" y="468.40" font-size="13.4" text-anchor="middle" >65</text>
<text x="645.65" y="468.40" font-size="13.4" text-anchor="middle" >90</text>
<line x1="457.15" y1="454.45" x2="457.15" y2="453.25" stroke="#000" stroke-width="1.3" />
<line x1="532.55" y1="454.45" x2="532.55" y2="453.25" stroke="#000" stroke-width="1.3" />
<line x1="607.95" y1="454.45" x2="607.95" y2="453.25" stroke="#000" stroke-width="1.3" />
<rect x="382.25" y="244.55" width="300.85" height="209.90" fill="none" stroke="#000" stroke-width="1.3"/>
<text x="533.00" y="478.90" font-size="13.4" text-anchor="middle" >Humidity (%)</text>
<text x="677.30" y="264.70" font-size="18.2" text-anchor="end" >(d)</text>
<rect x="395.6" y="251.90" width="26" height="12.2" fill="url(#p37)" stroke="#000" stroke-width="1.5"/>
<text x="425.10" y="262.20" font-size="11.85" text-anchor="start" >7days-10g/L</text>
<rect x="395.6" y="267.00" width="26" height="12.2" fill="url(#p38)" stroke="#000" stroke-width="1.5"/>
<text x="425.10" y="277.30" font-size="11.85" text-anchor="start" >28days-10g/L</text>
<rect x="395.6" y="282.10" width="26" height="12.2" fill="url(#p39)" stroke="#000" stroke-width="1.5"/>
<text x="425.10" y="292.40" font-size="11.85" text-anchor="start" >7days-15g/L</text>
<rect x="395.6" y="297.20" width="26" height="12.2" fill="url(#p40)" stroke="#000" stroke-width="1.5"/>
<text x="425.10" y="307.50" font-size="11.85" text-anchor="start" >28days-15g/L</text>
<rect x="395.6" y="312.30" width="26" height="12.2" fill="#E6FAFD" stroke="#000" stroke-width="1.5"/>
<text x="425.10" y="322.60" font-size="11.85" text-anchor="start" >7days-25g/L</text>
<rect x="395.6" y="327.40" width="26" height="12.2" fill="#F9D5F9" stroke="#000" stroke-width="1.5"/>
<text x="425.10" y="337.70" font-size="11.85" text-anchor="start" >28days-10g/L</text>
<g transform="translate(357.6,415.0) rotate(-90)"><text x="0" y="0" font-size="13.5">The increase of E<tspan font-size="9.3" dy="3.6">50</tspan><tspan dy="-3.6">(%)</tspan></text></g>
<defs><pattern id="p1" patternUnits="userSpaceOnUse" width="9.95" height="9.95" x="44.70" y="348.20"><path d="M0,9.95 L9.95,0 M-4.975,4.975 L4.975,-4.975 M4.975,14.924999999999999 L14.924999999999999,4.975" stroke="#000" stroke-width="1.5" fill="none"/></pattern><pattern id="p2" patternUnits="userSpaceOnUse" width="9.8" height="9.8" x="53.36" y="345.80"><path d="M0,0 L9.8,9.8 M-4.9,4.9 L4.9,14.700000000000001 M4.9,-4.9 L14.700000000000001,4.9" stroke="#ff0000" stroke-width="1.35" fill="none"/></pattern><pattern id="p3" patternUnits="userSpaceOnUse" width="7.0" height="7.0" x="62.02" y="335.50"><path d="M0,7.0 L7.0,0 M-3.5,3.5 L3.5,-3.5 M3.5,10.5 L10.5,3.5" stroke="#00ff00" stroke-width="1.35" fill="none"/></pattern><pattern id="p4" patternUnits="userSpaceOnUse" width="6.45" height="6.45" x="70.68" y="349.40"><path d="M0,0 L6.45,6.45 M-3.225,3.225 L3.225,9.675 M3.225,-3.225 L9.675,3.225" stroke="#0000ff" stroke-width="1.35" fill="none"/></pattern><pattern id="p5" patternUnits="userSpaceOnUse" width="9.95" height="9.95" x="119.93" y="362.40"><path d="M0,9.95 L9.95,0 M-4.975,4.975 L4.975,-4.975 M4.975,14.924999999999999 L14.924999999999999,4.975" stroke="#000" stroke-width="1.5" fill="none"/></pattern><pattern id="p6" patternUnits="userSpaceOnUse" width="9.8" height="9.8" x="128.59" y="358.70"><path d="M0,0 L9.8,9.8 M-4.9,4.9 L4.9,14.700000000000001 M4.9,-4.9 L14.700000000000001,4.9" stroke="#ff0000" stroke-width="1.35" fill="none"/></pattern><pattern id="p7" patternUnits="userSpaceOnUse" width="7.0" height="7.0" x="137.25" y="350.80"><path d="M0,7.0 L7.0,0 M-3.5,3.5 L3.5,-3.5 M3.5,10.5 L10.5,3.5" stroke="#00ff00" stroke-width="1.35" fill="none"/></pattern><pattern id="p8" patternUnits="userSpaceOnUse" width="6.45" height="6.45" x="145.91" y="358.90"><path d="M0,0 L6.45,6.45 M-3.225,3.225 L3.225,9.675 M3.225,-3.225 L9.675,3.225" stroke="#0000ff" stroke-width="1.35" fill="none"/></pattern><pattern id="p9" patternUnits="userSpaceOnUse" width="9.95" height="9.95" x="195.16" y="373.40"><path d="M0,9.95 L9.95,0 M-4.975,4.975 L4.975,-4.975 M4.975,14.924999999999999 L14.924999999999999,4.975" stroke="#000" stroke-width="1.5" fill="none"/></pattern><pattern id="p10" patternUnits="userSpaceOnUse" width="9.8" height="9.8" x="203.82" y="370.70"><path d="M0,0 L9.8,9.8 M-4.9,4.9 L4.9,14.700000000000001 M4.9,-4.9 L14.700000000000001,4.9" stroke="#ff0000" stroke-width="1.35" fill="none"/></pattern><pattern id="p11" patternUnits="userSpaceOnUse" width="7.0" height="7.0" x="212.48" y="355.70"><path d="M0,7.0 L7.0,0 M-3.5,3.5 L3.5,-3.5 M3.5,10.5 L10.5,3.5" stroke="#00ff00" stroke-width="1.35" fill="none"/></pattern><pattern id="p12" patternUnits="userSpaceOnUse" width="6.45" height="6.45" x="221.14" y="366.60"><path d="M0,0 L6.45,6.45 M-3.225,3.225 L3.225,9.675 M3.225,-3.225 L9.675,3.225" stroke="#0000ff" stroke-width="1.35" fill="none"/></pattern><pattern id="p13" patternUnits="userSpaceOnUse" width="9.95" height="9.95" x="270.39" y="372.60"><path d="M0,9.95 L9.95,0 M-4.975,4.975 L4.975,-4.975 M4.975,14.924999999999999 L14.924999999999999,4.975" stroke="#000" stroke-width="1.5" fill="none"/></pattern><pattern id="p14" patternUnits="userSpaceOnUse" width="9.8" height="9.8" x="279.05" y="366.00"><path d="M0,0 L9.8,9.8 M-4.9,4.9 L4.9,14.700000000000001 M4.9,-4.9 L14.700000000000001,4.9" stroke="#ff0000" stroke-width="1.35" fill="none"/></pattern><pattern id="p15" patternUnits="userSpaceOnUse" width="7.0" height="7.0" x="287.71" y="346.50"><path d="M0,7.0 L7.0,0 M-3.5,3.5 L3.5,-3.5 M3.5,10.5 L10.5,3.5" stroke="#00ff00" stroke-width="1.35" fill="none"/></pattern><pattern id="p16" patternUnits="userSpaceOnUse" width="6.45" height="6.45" x="296.37" y="358.30"><path d="M0,0 L6.45,6.45 M-3.225,3.225 L3.225,9.675 M3.225,-3.225 L9.675,3.225" stroke="#0000ff" stroke-width="1.35" fill="none"/></pattern><pattern id="p17" patternUnits="userSpaceOnUse" width="9.95" height="9.95" x="44.60" y="247.70"><path d="M0,9.95 L9.95,0 M-4.975,4.975 L4.975,-4.975 M4.975,14.924999999999999 L14.924999999999999,4.975" stroke="#000" stroke-width="1.5" fill="none"/></pattern><pattern id="p18" patternUnits="userSpaceOnUse" width="9.8" height="9.8" x="44.60" y="265.10"><path d="M0,0 L9.8,9.8 M-4.9,4.9 L4.9,14.700000000000001 M4.9,-4.9 L14.700000000000001,4.9" stroke="#ff0000" stroke-width="1.35" fill="none"/></pattern><pattern id="p19" patternUnits="userSpaceOnUse" width="7.0" height="7.0" x="44.60" y="280.30"><path d="M0,7.0 L7.0,0 M-3.5,3.5 L3.5,-3.5 M3.5,10.5 L10.5,3.5" stroke="#00ff00" stroke-width="1.35" fill="none"/></pattern><pattern id="p20" patternUnits="userSpaceOnUse" width="6.45" height="6.45" x="157.00" y="265.10"><path d="M0,0 L6.45,6.45 M-3.225,3.225 L3.225,9.675 M3.225,-3.225 L9.675,3.225" stroke="#0000ff" stroke-width="1.35" fill="none"/></pattern><pattern id="p21" patternUnits="userSpaceOnUse" width="9.95" height="9.95" x="389.60" y="445.40"><path d="M0,9.95 L9.95,0 M-4.975,4.975 L4.975,-4.975 M4.975,14.924999999999999 L14.924999999999999,4.975" stroke="#000" stroke-width="1.5" fill="none"/></pattern><pattern id="p22" patternUnits="userSpaceOnUse" width="9.8" height="9.8" x="399.55" y="415.40"><path d="M0,0 L9.8,9.8 M-4.9,4.9 L4.9,14.700000000000001 M4.9,-4.9 L14.700000000000001,4.9" stroke="#ff0000" stroke-width="1.35" fill="none"/></pattern><pattern id="p23" patternUnits="userSpaceOnUse" width="7.0" height="7.0" x="409.50" y="449.40"><path d="M0,7.0 L7.0,0 M-3.5,3.5 L3.5,-3.5 M3.5,10.5 L10.5,3.5" stroke="#00ff00" stroke-width="1.35" fill="none"/></pattern><pattern id="p24" patternUnits="userSpaceOnUse" width="6.45" height="6.45" x="419.45" y="418.70"><path d="M0,0 L6.45,6.45 M-3.225,3.225 L3.225,9.675 M3.225,-3.225 L9.675,3.225" stroke="#0000ff" stroke-width="1.35" fill="none"/></pattern><pattern id="p25" patternUnits="userSpaceOnUse" width="9.95" height="9.95" x="465.00" y="440.60"><path d="M0,9.95 L9.95,0 M-4.975,4.975 L4.975,-4.975 M4.975,14.924999999999999 L14.924999999999999,4.975" stroke="#000" stroke-width="1.5" fill="none"/></pattern><pattern id="p26" patternUnits="userSpaceOnUse" width="9.8" height="9.8" x="474.95" y="390.40"><path d="M0,0 L9.8,9.8 M-4.9,4.9 L4.9,14.700000000000001 M4.9,-4.9 L14.700000000000001,4.9" stroke="#ff0000" stroke-width="1.35" fill="none"/></pattern><pattern id="p27" patternUnits="userSpaceOnUse" width="7.0" height="7.0" x="484.90" y="432.70"><path d="M0,7.0 L7.0,0 M-3.5,3.5 L3.5,-3.5 M3.5,10.5 L10.5,3.5" stroke="#00ff00" stroke-width="1.35" fill="none"/></pattern><pattern id="p28" patternUnits="userSpaceOnUse" width="6.45" height="6.45" x="494.85" y="373.00"><path d="M0,0 L6.45,6.45 M-3.225,3.225 L3.225,9.675 M3.225,-3.225 L9.675,3.225" stroke="#0000ff" stroke-width="1.35" fill="none"/></pattern><pattern id="p29" patternUnits="userSpaceOnUse" width="9.95" height="9.95" x="540.40" y="431.60"><path d="M0,9.95 L9.95,0 M-4.975,4.975 L4.975,-4.975 M4.975,14.924999999999999 L14.924999999999999,4.975" stroke="#000" stroke-width="1.5" fill="none"/></pattern><pattern id="p30" patternUnits="userSpaceOnUse" width="9.8" height="9.8" x="550.35" y="370.40"><path d="M0,0 L9.8,9.8 M-4.9,4.9 L4.9,14.700000000000001 M4.9,-4.9 L14.700000000000001,4.9" stroke="#ff0000" stroke-width="1.35" fill="none"/></pattern><pattern id="p31" patternUnits="userSpaceOnUse" width="7.0" height="7.0" x="560.30" y="409.80"><path d="M0,7.0 L7.0,0 M-3.5,3.5 L3.5,-3.5 M3.5,10.5 L10.5,3.5" stroke="#00ff00" stroke-width="1.35" fill="none"/></pattern><pattern id="p32" patternUnits="userSpaceOnUse" width="6.45" height="6.45" x="570.25" y="346.90"><path d="M0,0 L6.45,6.45 M-3.225,3.225 L3.225,9.675 M3.225,-3.225 L9.675,3.225" stroke="#0000ff" stroke-width="1.35" fill="none"/></pattern><pattern id="p33" patternUnits="userSpaceOnUse" width="9.95" height="9.95" x="615.80" y="426.80"><path d="M0,9.95 L9.95,0 M-4.975,4.975 L4.975,-4.975 M4.975,14.924999999999999 L14.924999999999999,4.975" stroke="#000" stroke-width="1.5" fill="none"/></pattern><pattern id="p34" patternUnits="userSpaceOnUse" width="9.8" height="9.8" x="625.75" y="359.40"><path d="M0,0 L9.8,9.8 M-4.9,4.9 L4.9,14.700000000000001 M4.9,-4.9 L14.700000000000001,4.9" stroke="#ff0000" stroke-width="1.35" fill="none"/></pattern><pattern id="p35" patternUnits="userSpaceOnUse" width="7.0" height="7.0" x="635.70" y="398.10"><path d="M0,7.0 L7.0,0 M-3.5,3.5 L3.5,-3.5 M3.5,10.5 L10.5,3.5" stroke="#00ff00" stroke-width="1.35" fill="none"/></pattern><pattern id="p36" patternUnits="userSpaceOnUse" width="6.45" height="6.45" x="645.65" y="319.00"><path d="M0,0 L6.45,6.45 M-3.225,3.225 L3.225,9.675 M3.225,-3.225 L9.675,3.225" stroke="#0000ff" stroke-width="1.35" fill="none"/></pattern><pattern id="p37" patternUnits="userSpaceOnUse" width="9.95" height="9.95" x="395.60" y="251.90"><path d="M0,9.95 L9.95,0 M-4.975,4.975 L4.975,-4.975 M4.975,14.924999999999999 L14.924999999999999,4.975" stroke="#000" stroke-width="1.5" fill="none"/></pattern><pattern id="p38" patternUnits="userSpaceOnUse" width="9.8" height="9.8" x="395.60" y="267.00"><path d="M0,0 L9.8,9.8 M-4.9,4.9 L4.9,14.700000000000001 M4.9,-4.9 L14.700000000000001,4.9" stroke="#ff0000" stroke-width="1.35" fill="none"/></pattern><pattern id="p39" patternUnits="userSpaceOnUse" width="7.0" height="7.0" x="395.60" y="282.10"><path d="M0,7.0 L7.0,0 M-3.5,3.5 L3.5,-3.5 M3.5,10.5 L10.5,3.5" stroke="#00ff00" stroke-width="1.35" fill="none"/></pattern><pattern id="p40" patternUnits="userSpaceOnUse" width="6.45" height="6.45" x="395.60" y="297.20"><path d="M0,0 L6.45,6.45 M-3.225,3.225 L3.225,9.675 M3.225,-3.225 L9.675,3.225" stroke="#0000ff" stroke-width="1.35" fill="none"/></pattern></defs>
</svg></body></html>
